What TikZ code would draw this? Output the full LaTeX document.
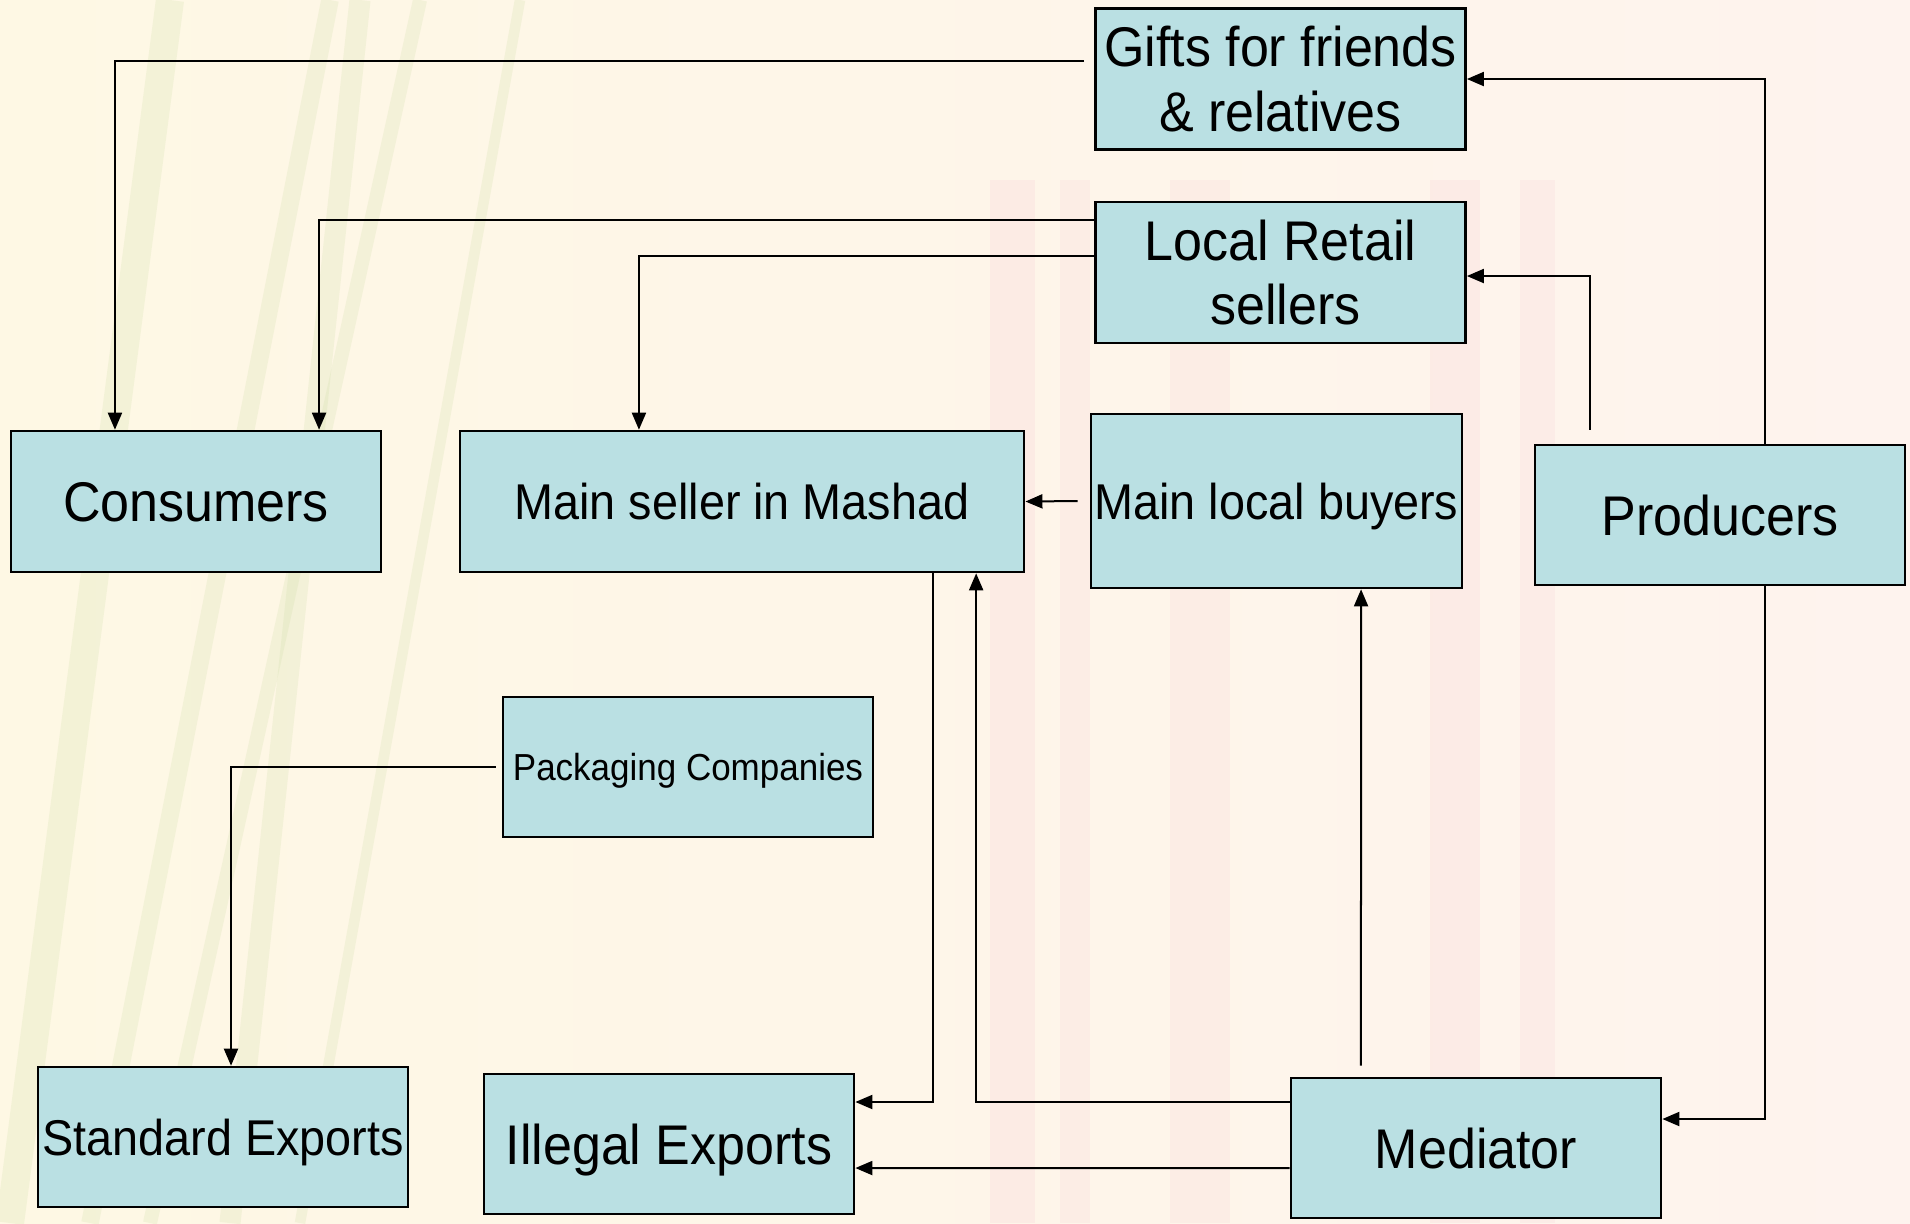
\documentclass[tikz,border=0pt]{standalone}
\usepackage{fontspec}
\setmainfont[FakeStretch=0.93]{Liberation Sans}
\usetikzlibrary{arrows.meta}
\definecolor{boxfill}{RGB}{186,224,227}
\definecolor{bgcream}{RGB}{254,248,228}
\definecolor{bgwhite}{RGB}{255,254,254}
\definecolor{bgpink}{RGB}{254,243,238}
\definecolor{streakpink}{RGB}{241,170,192}
\definecolor{streakgreen}{RGB}{200,218,160}
\tikzset{
  box/.style={draw=black, line width=0.25mm, fill=boxfill, align=center,
    inner sep=0pt, minimum width=3.7cm, minimum height=1.4cm},
  oneline/.style={text depth=0pt},
  bigtext/.style={font=\fontsize{15.9}{18.4}\selectfont},
  midtext/.style={font=\fontsize{14.3}{17}\selectfont},
  smalltext/.style={font=\fontsize{10.7}{13}\selectfont},
  flow/.style={line width=0.2mm, -{Triangle[length=1.7mm,width=1.4mm]}},
}
\begin{document}
\begin{tikzpicture}[x=0.01cm,y=-0.01cm]
  \useasboundingbox (0,0) rectangle (1910,1223);

  % Drawing background
  \shade[left color=bgcream, middle color=bgwhite, right color=bgpink]
    (0,0) rectangle (1910,1223);
  \foreach \xa/\xb/\w in {10/170/8, 90/330/5, 150/420/4, 230/360/6, 300/520/3}
    \draw[streakgreen, line width=\w pt, opacity=0.2] (\xa,1223) -- (\xb,0);
  \foreach \xa/\w/\o in {990/45/0.12, 1060/30/0.1, 1170/60/0.1, 1430/50/0.12, 1520/35/0.1}
    \fill[streakpink, opacity=\o] (\xa,180) rectangle ++(\w,1043);

  % Marking boxes
  \node[box, bigtext, minimum height=1.41cm] (gifts) at (1280.5,79)
    {Gifts for friends\\ \& relatives};
  \node[box, bigtext, minimum height=1.41cm] (retail) at (1280.5,272.5)
    {Local Retail\\ \hspace*{0.1cm}sellers};
  \node[box, oneline, bigtext, minimum height=1.41cm] (consumers) at (196,501.5) {Consumers};
  \node[box, oneline, midtext, minimum width=5.64cm, minimum height=1.41cm] (mainseller)
    at (742,501.5) {Main seller in Mashad};
  \node[box, oneline, midtext, minimum width=3.71cm, minimum height=1.74cm] (buyers)
    at (1276.5,501) {Main local buyers};
  \node[box, oneline, bigtext] (producers) at (1720,515) {Producers};
  \node[box, oneline, smalltext] (packaging) at (688,767) {Packaging Companies};
  \node[box, oneline, midtext] (standard) at (223,1137) {Standard Exports};
  \node[box, oneline, bigtext] (illegal) at (669,1144) {Illegal Exports};
  \node[box, oneline, bigtext] (mediator) at (1476,1148) {Mediator};

  % Drawing arrow gifts consumers
  \draw[flow] ([shift={(-1mm,1.8mm)}]gifts.west) -| ([xshift=-8.1mm]consumers.north);

  % Drawing arrow retail consumers
  \draw[flow] ([yshift=5.25mm]retail.west) -| ([xshift=12.3mm]consumers.north);

  % Drawing arrow retail mainseller
  \draw[flow] ([yshift=1.65mm]retail.west) -| ([xshift=-10.3mm]mainseller.north);

  % Drawing arrow producers gifts
  \draw[flow] ([xshift=4.5mm]producers.north) |- (gifts.east);

  % Drawing arrow producers retail
  \draw[flow] ([shift={(-13mm,1.4mm)}]producers.north) |- ([yshift=-0.35mm]retail.east);

  % Drawing arrow buyers mainseller
  \draw[flow] ([xshift=-1.2mm]buyers.west) -- (mainseller.east);

  % Drawing arrow mainseller illegal
  \draw[flow] ([xshift=19.1mm]mainseller.south) |- ([yshift=4.2mm]illegal.east);

  % Drawing arrow mediator mainseller
  \draw[flow] ([yshift=4.6mm]mediator.west) -| ([xshift=23.4mm]mainseller.south);

  % Drawing arrow mediator illegal
  \draw[flow] ([yshift=-2mm]mediator.west) -- ([yshift=-2.4mm]illegal.east);

  % Drawing arrow mediator buyers
  \draw[flow] ([shift={(-11.5mm,1.1mm)}]mediator.north) -- ([xshift=8.45mm]buyers.south);

  % Drawing arrow producers mediator
  \draw[flow] ([xshift=4.5mm]producers.south) |- ([yshift=2.9mm]mediator.east);

  % Drawing arrow packaging standard
  \draw[flow] ([xshift=-0.6mm]packaging.west) -| ([xshift=0.8mm]standard.north);
\end{tikzpicture}
\end{document}
